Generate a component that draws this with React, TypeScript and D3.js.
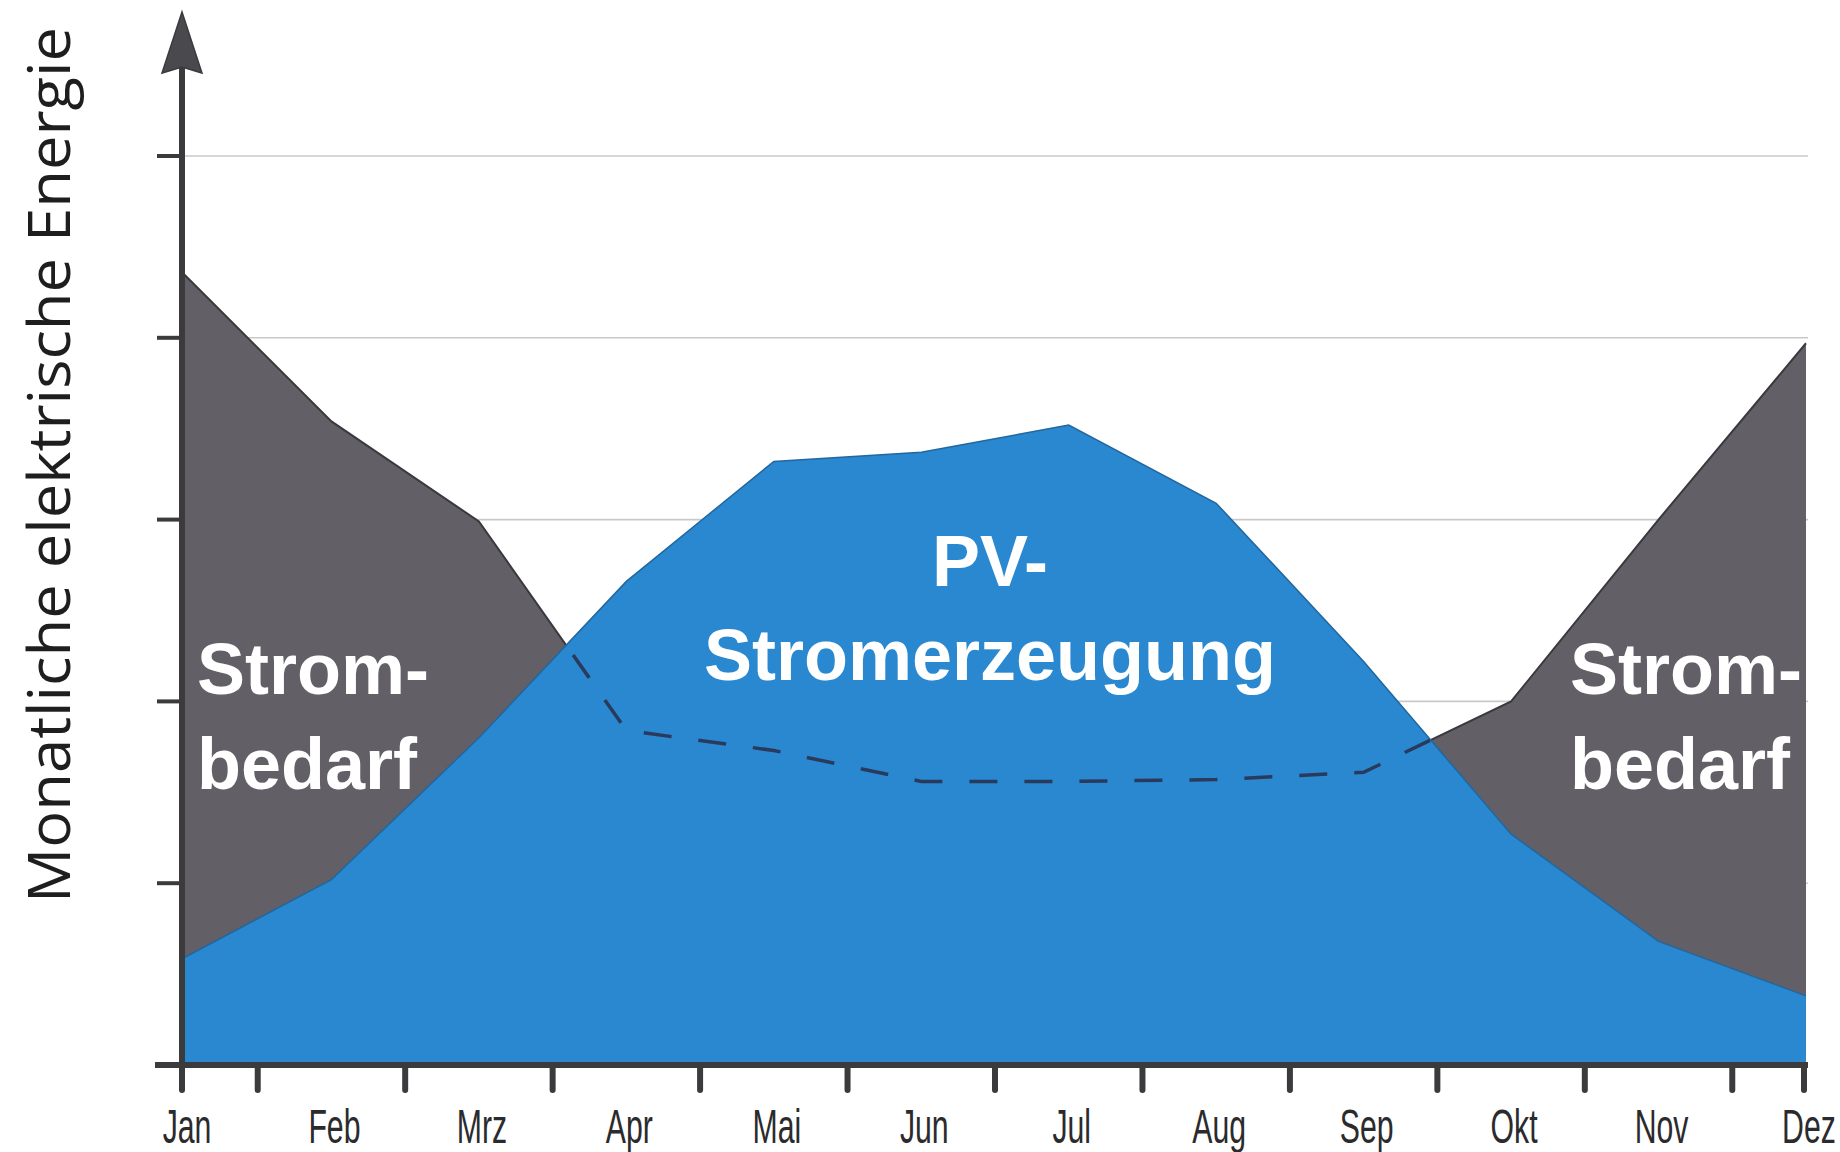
import React, { useEffect, useRef } from "react";
import * as d3 from "d3";

const months = ["Jan", "Feb", "Mrz", "Apr", "Mai", "Jun", "Jul", "Aug", "Sep", "Okt", "Nov", "Dez"];
const strombedarf = [4.35, 3.54, 2.99, 1.84, 1.73, 1.56, 1.56, 1.57, 1.61, 2.0, 3.0, 3.97];
const pvErzeugung = [0.59, 1.02, 1.8, 2.66, 3.32, 3.37, 3.52, 3.09, 2.22, 1.27, 0.68, 0.38];
const gridValues = [1, 2, 3, 4, 5];

const App = () => {
  const svgRef = useRef<SVGSVGElement>(null);

  useEffect(() => {
    const svg = d3.select(svgRef.current);
    svg.selectAll("*").remove();

    const axisX = 182;
    const axisY = 1065;

    const x = d3.scalePoint<string>().domain(months).range([184, 1806]);
    const y = d3.scaleLinear().domain([0, 5]).range([axisY, 156]);

    const demand = months.map((m, i) => ({ m, v: strombedarf[i] }));
    const pv = months.map((m, i) => ({ m, v: pvErzeugung[i] }));

    // gridlines
    svg.append("g")
      .selectAll("line")
      .data(gridValues)
      .join("line")
      .attr("x1", axisX)
      .attr("x2", 1808)
      .attr("y1", d => y(d))
      .attr("y2", d => y(d))
      .attr("stroke", "#c9c9c9")
      .attr("stroke-width", 1.6);

    const area = d3.area<{ m: string; v: number }>()
      .x(d => x(d.m)!)
      .y0(axisY)
      .y1(d => y(d.v));
    const line = d3.line<{ m: string; v: number }>()
      .x(d => x(d.m)!)
      .y(d => y(d.v));

    // Strombedarf
    svg.append("path").attr("d", area(demand)).attr("fill", "#625f66");
    svg.append("path").attr("d", line(demand))
      .attr("fill", "none").attr("stroke", "#3a393e").attr("stroke-width", 2);

    // PV
    svg.append("path").attr("d", area(pv)).attr("fill", "#2988d0");
    svg.append("path").attr("d", line(pv))
      .attr("fill", "none").attr("stroke", "#22679e").attr("stroke-width", 1.5);

    // dashed demand inside PV area
    svg.append("clipPath").attr("id", "pvClip")
      .append("path").attr("d", area(pv));
    svg.append("path").attr("d", line(demand))
      .attr("clip-path", "url(#pvClip)")
      .attr("fill", "none")
      .attr("stroke", "#2a3a5c")
      .attr("stroke-width", 3.5)
      .attr("stroke-dasharray", "28 27");

    // labels inside
    const labelFont = "'Liberation Sans', Arial, sans-serif";
    const addLabel = (lines: string[], lx: number, ly: number[], anchor: string) => {
      lines.forEach((t, i) => {
        svg.append("text")
          .attr("x", lx)
          .attr("y", ly[i])
          .attr("text-anchor", anchor)
          .attr("font-family", labelFont)
          .attr("font-weight", "bold")
          .attr("font-size", 72)
          .attr("fill", "#ffffff")
          .text(t);
      });
    };
    addLabel(["Strom-", "bedarf"], 197, [694, 789], "start");
    addLabel(["Strom-", "bedarf"], 1570, [694, 789], "start");
    addLabel(["PV-", "Stromerzeugung"], 990, [586, 680], "middle");

    // axes
    const axisColor = "#3b3b3e";
    svg.append("line")
      .attr("x1", 155).attr("x2", 1808)
      .attr("y1", axisY).attr("y2", axisY)
      .attr("stroke", axisColor).attr("stroke-width", 6);

    const tickXs = months.slice(0, -1)
      .map((m, i) => (x(m)! + x(months[i + 1])!) / 2)
      .concat([x(months[months.length - 1])! - 2]);
    svg.append("g")
      .selectAll("line")
      .data(tickXs)
      .join("line")
      .attr("x1", d => d).attr("x2", d => d)
      .attr("y1", axisY).attr("y2", 1090)
      .attr("stroke", axisColor).attr("stroke-width", 6)
      .attr("stroke-linecap", "round");

    svg.append("line")
      .attr("x1", axisX).attr("x2", axisX)
      .attr("y1", 1090).attr("y2", 66)
      .attr("stroke", axisColor).attr("stroke-width", 6)
      .attr("stroke-linecap", "round");
    svg.append("path")
      .attr("d", `M${axisX},12 L${axisX + 20},73 L${axisX},67 L${axisX - 20},73 Z`)
      .attr("fill", "#4a494e").attr("stroke", axisColor).attr("stroke-width", 1.5);

    svg.append("g")
      .selectAll("line")
      .data(gridValues)
      .join("line")
      .attr("x1", 157).attr("x2", axisX)
      .attr("y1", d => y(d)).attr("y2", d => y(d))
      .attr("stroke", axisColor).attr("stroke-width", 4);

    // month labels
    svg.append("g")
      .selectAll("text")
      .data(months)
      .join("text")
      .attr("transform", d => `translate(${x(d)! + 3},1143) scale(0.63,1)`)
      .attr("text-anchor", "middle")
      .attr("font-family", labelFont)
      .attr("font-size", 48)
      .attr("fill", "#2b2b2d")
      .text(d => d);

    // y axis title
    svg.append("text")
      .attr("transform", "translate(70,465) rotate(-90)")
      .attr("text-anchor", "middle")
      .attr("font-family", "'Open Sans', sans-serif")
      .attr("font-size", 58)
      .attr("textLength", 876)
      .attr("lengthAdjust", "spacingAndGlyphs")
      .attr("fill", "#1e1e1e")
      .text("Monatliche elektrische Energie");
  }, []);

  return (
    <svg
      ref={svgRef}
      width="1840"
      height="1152"
      style={{ position: "absolute", left: 0, top: 0, background: "#ffffff" }}
    ></svg>
  );
};

export default App;
